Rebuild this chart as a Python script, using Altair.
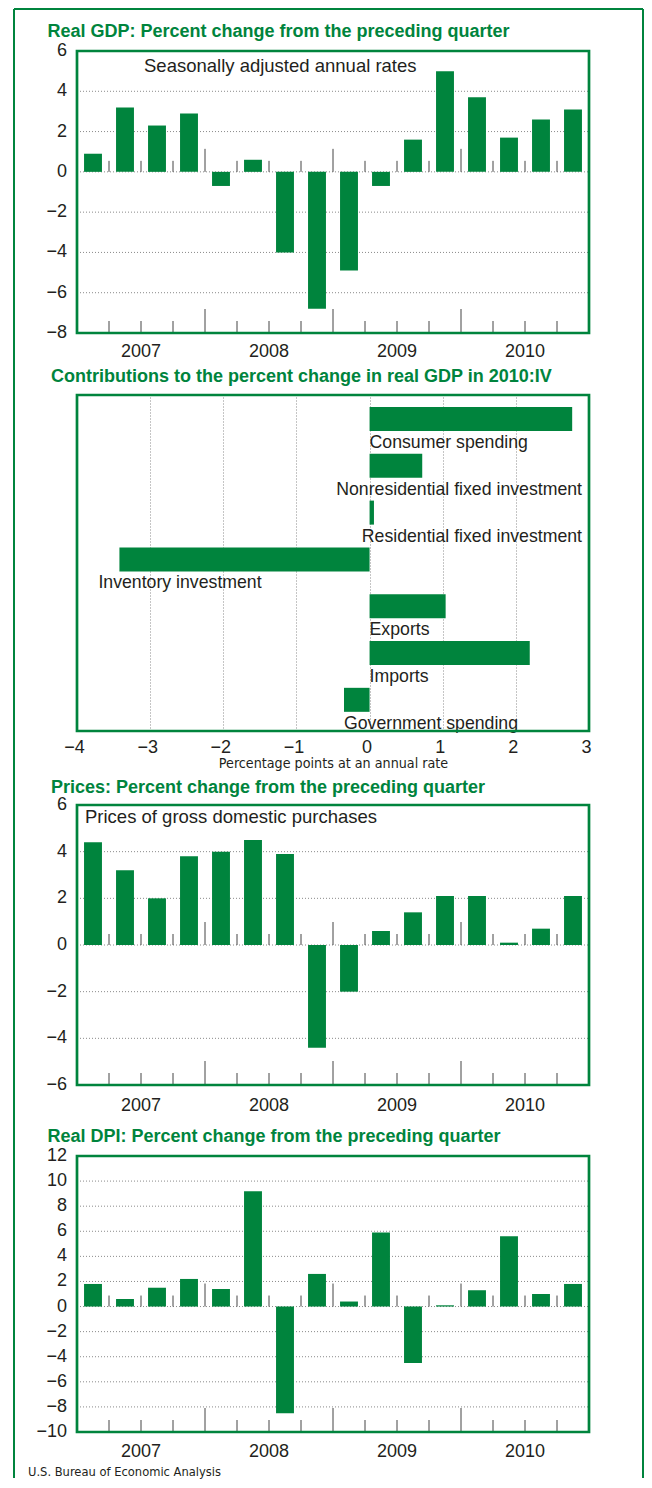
import altair as alt
import pandas as pd

# ---------------- data ----------------
YEARS = ["2007", "2008", "2009", "2010"]
QTRS = ["I", "II", "III", "IV"]
QUARTERS = [f"{y}:{q}" for y in YEARS for q in QTRS]

GDP = [0.9, 3.2, 2.3, 2.9, -0.7, 0.6, -4.0, -6.8, -4.9, -0.7, 1.6, 5.0, 3.7, 1.7, 2.6, 3.1]
PRICES = [4.4, 3.2, 2.0, 3.8, 4.0, 4.5, 3.9, -4.4, -2.0, 0.6, 1.4, 2.1, 2.1, 0.1, 0.7, 2.1]
DPI = [1.8, 0.6, 1.5, 2.2, 1.4, 9.2, -8.5, 2.6, 0.4, 5.9, -4.5, 0.1, 1.3, 5.6, 1.0, 1.8]

CATEGORIES = [
    "Consumer spending",
    "Nonresidential fixed investment",
    "Residential fixed investment",
    "Inventory investment",
    "Exports",
    "Imports",
    "Government spending",
]
CONTRIB = [2.77, 0.72, 0.06, -3.42, 1.04, 2.19, -0.35]

TITLE_GDP = "Real GDP: Percent change from the preceding quarter"
TITLE_CONTRIB = "Contributions to the percent change in real GDP in 2010:IV"
TITLE_PRICES = "Prices: Percent change from the preceding quarter"
TITLE_DPI = "Real DPI: Percent change from the preceding quarter"
NOTE_GDP = "Seasonally adjusted annual rates"
NOTE_PRICES = "Prices of gross domestic purchases"
AXIS_TITLE_CONTRIB = "Percentage points at an annual rate"
FOOTER = "U.S. Bureau of Economic Analysis"

# ---------------- style ----------------
GREEN = "#00843D"
TEXT = "#231F20"
GRID = "#8a8a8a"
TICK = "#444444"
FONT = "Liberation Sans"
NARROW = "DejaVu Sans Condensed"
W = 512
ONE = alt.Data(values=[{"k": 0}])


def text_layer(txt, x, y, size=18, bold=False, color=TEXT, font=FONT, baseline="middle"):
    return alt.Chart(ONE).mark_text(
        text=txt, align="left", baseline=baseline, font=font, fontSize=size,
        fontWeight="bold" if bold else "normal", color=color,
    ).encode(x=alt.value(x), y=alt.value(y))


def quarterly(values, ymin, ymax, step, frame_h, extra, year_pad):
    unit = frame_h / (ymax - ymin)
    top = ymax + extra / unit
    df = pd.DataFrame({"quarter": QUARTERS, "value": values})
    bdf = pd.DataFrame({"quarter": QUARTERS[1:],
                        "yearstart": [q.endswith(":I") for q in QUARTERS[1:]]})
    tdf = pd.DataFrame({"value": list(range(ymin, ymax + 1, step))})
    xenc = alt.X(
        "quarter:N", sort=QUARTERS,
        scale=alt.Scale(paddingInner=0.44, paddingOuter=0.22),
        axis=alt.Axis(
            values=[q for q in QUARTERS if q.endswith(":II")],
            labelExpr="substring(datum.value, 0, 4)", labelOffset=16, labelAngle=0,
            ticks=False, domain=False, grid=False, labelFontSize=18, labelFont=FONT,
            labelColor=TEXT, labelPadding=year_pad, labelBaseline="middle", title=None,
        ),
    )
    yscale = alt.Scale(domain=[ymin, top], nice=False, zero=False)
    yenc = alt.Y("value:Q", scale=yscale, axis=None)
    # dotted horizontal gridlines and y tick labels, placed through the y scale
    grid = alt.Chart(tdf).mark_rule(color=GRID, strokeWidth=1, strokeDash=[1, 2]).encode(
        y=yenc, x=alt.value(0), x2=alt.value(W))
    ylabels = alt.Chart(tdf).transform_calculate(
        label="datum.value < 0 ? '\u2212' + abs(datum.value) : '' + datum.value"
    ).mark_text(align="right", baseline="middle", font=FONT, fontSize=18, color=TEXT,
                dx=-10).encode(x=alt.value(0), y=yenc, text="label:N")
    bars = alt.Chart(df).mark_bar(color=GREEN).encode(x=xenc, y=yenc, y2=alt.datum(0))
    tx = alt.X("quarter:N", sort=QUARTERS, bandPosition=0)
    off = -32 * 0.44 / 2
    base = alt.Chart(bdf)
    layers = [grid, bars]
    for test, zlen, blen in [("datum.yearstart", 23, 24), ("!datum.yearstart", 11, 12)]:
        layers.append(base.transform_filter(test).mark_rule(
            color=TICK, strokeWidth=1, xOffset=off, y2Offset=-zlen).encode(
            x=tx, y=alt.YDatum(0, axis=None), y2=alt.datum(0)))
        layers.append(base.transform_filter(test).mark_rule(
            color=TICK, strokeWidth=1, xOffset=off, y2Offset=-blen).encode(
            x=tx, y=alt.YDatum(ymin, axis=None), y2=alt.datum(ymin)))
    frame = alt.Chart(ONE).mark_rect(fill="white", fillOpacity=0, stroke=GREEN,
                                     strokeWidth=2.7).encode(
        x=alt.value(0), x2=alt.value(W), y=alt.value(extra), y2=alt.value(extra + frame_h))
    layers += [frame, ylabels]
    return layers, frame_h + extra


def border_rule(x, x2, y, y2):
    return alt.Chart(ONE).mark_rule(color=GREEN, strokeWidth=2).encode(
        x=alt.value(x), x2=alt.value(x2), y=alt.value(y), y2=alt.value(y2))


# ---------------- panel 1 ----------------
l1, h1 = quarterly(GDP, -8, 6, 2, 282, 0, 18.7)
B_LEFT, B_RIGHT, B_TOP, B_BOTTOM = -63, 566, -42, 1427
p1 = alt.layer(
    *l1,
    border_rule(B_LEFT, B_LEFT, B_TOP, B_BOTTOM),
    border_rule(B_RIGHT, B_RIGHT, B_TOP, B_BOTTOM),
    border_rule(B_LEFT, B_RIGHT, B_TOP, B_TOP),
    text_layer(TITLE_GDP, -29.5, -14, bold=True, color=GREEN, baseline="alphabetic"),
    text_layer(NOTE_GDP, 67, 15, size=18.5),
).properties(width=W, height=h1)

# ---------------- panel 2 ----------------
H2 = 336
df2 = pd.DataFrame({"category": CATEGORIES, "value": CONTRIB})
yb = alt.Y("category:N", sort=CATEGORIES,
           scale=alt.Scale(paddingInner=0.487, paddingOuter=0.333, align=0.385),
           axis=None)
xq = alt.X(
    "value:Q", scale=alt.Scale(domain=[-4, 3], nice=False, zero=False),
    axis=alt.Axis(
        values=list(range(-4, 4)), format="d", grid=True, gridDash=[1, 2],
        gridColor=GRID, gridWidth=1, ticks=False, domain=False, labelPadding=16,
        labelBaseline="middle", labelFontSize=18, labelFont=FONT, labelColor=TEXT,
        labelOffset=-3, labelFlush=False, labelOverlap=False,
        title=AXIS_TITLE_CONTRIB, titleFont=NARROW, titleFontSize=14.2,
        titleFontWeight="normal", titleColor=TEXT, titlePadding=0,
    ),
)
bars2 = alt.Chart(df2).mark_bar(color=GREEN).encode(y=yb, x=xq, x2=alt.datum(0))

RIGHT_LABELS = ["Nonresidential fixed investment", "Residential fixed investment"]
SHIFT_LABELS = ["Inventory investment"]
lab_y = alt.Y("category:N", sort=CATEGORIES, bandPosition=1, axis=None)
lab_base = alt.Chart(df2).transform_calculate(anchor="min(datum.value, 0)")
txt_style = dict(baseline="middle", dy=12, font=FONT, fontSize=17.7, color=TEXT)
lab_left = lab_base.transform_filter(
    alt.FieldOneOfPredicate(field="category",
                            oneOf=[c for c in CATEGORIES if c not in RIGHT_LABELS + SHIFT_LABELS])
).mark_text(align="left", **txt_style).encode(
    x=alt.X("anchor:Q"), y=lab_y, text="category:N")
lab_shift = lab_base.transform_filter(
    alt.FieldOneOfPredicate(field="category", oneOf=SHIFT_LABELS)
).mark_text(align="left", dx=-21, **txt_style).encode(
    x=alt.X("anchor:Q"), y=lab_y, text="category:N")
lab_right = lab_base.transform_filter(
    alt.FieldOneOfPredicate(field="category", oneOf=RIGHT_LABELS)
).mark_text(align="right", dx=-7, **txt_style).encode(
    x=alt.value(W), y=lab_y, text="category:N")
frame2 = alt.Chart(ONE).mark_rect(fill="white", fillOpacity=0, stroke=GREEN,
                                  strokeWidth=2.7).encode(
    x=alt.value(0), x2=alt.value(W), y=alt.value(0), y2=alt.value(H2))
p2 = alt.layer(
    bars2, lab_left, lab_shift, lab_right, frame2,
    text_layer(TITLE_CONTRIB, -26, -13.3, bold=True, color=GREEN, baseline="alphabetic"),
).properties(width=W, height=H2)

# ---------------- panel 3 ----------------
l3, h3 = quarterly(PRICES, -6, 6, 2, 280, 12, 20.7)
p3 = alt.layer(
    *l3,
    text_layer(TITLE_PRICES, -26, 0, bold=True, color=GREEN, baseline="alphabetic"),
    text_layer(NOTE_PRICES, 8, 24.3, size=18.5),
).properties(width=W, height=h3)

# ---------------- panel 4 ----------------
l4, h4 = quarterly(DPI, -10, 12, 2, 276, 9, 19.7)
p4 = alt.layer(
    *l4,
    text_layer(TITLE_DPI, -29.5, -5.5, bold=True, color=GREEN, baseline="alphabetic"),
    text_layer(FOOTER, -49, 325, size=12.8, font=NARROW),
).properties(width=W, height=h4)

chart = alt.vconcat(p1, p2, p3, p4, spacing=62, bounds="flush").properties(
    padding={"left": 5, "top": 0, "right": 0, "bottom": 0},
    background="white",
).configure_view(strokeWidth=0).configure_axis(labelOverlap=False)

chart.save("out.html", embed_options={"renderer": "svg", "actions": False})
